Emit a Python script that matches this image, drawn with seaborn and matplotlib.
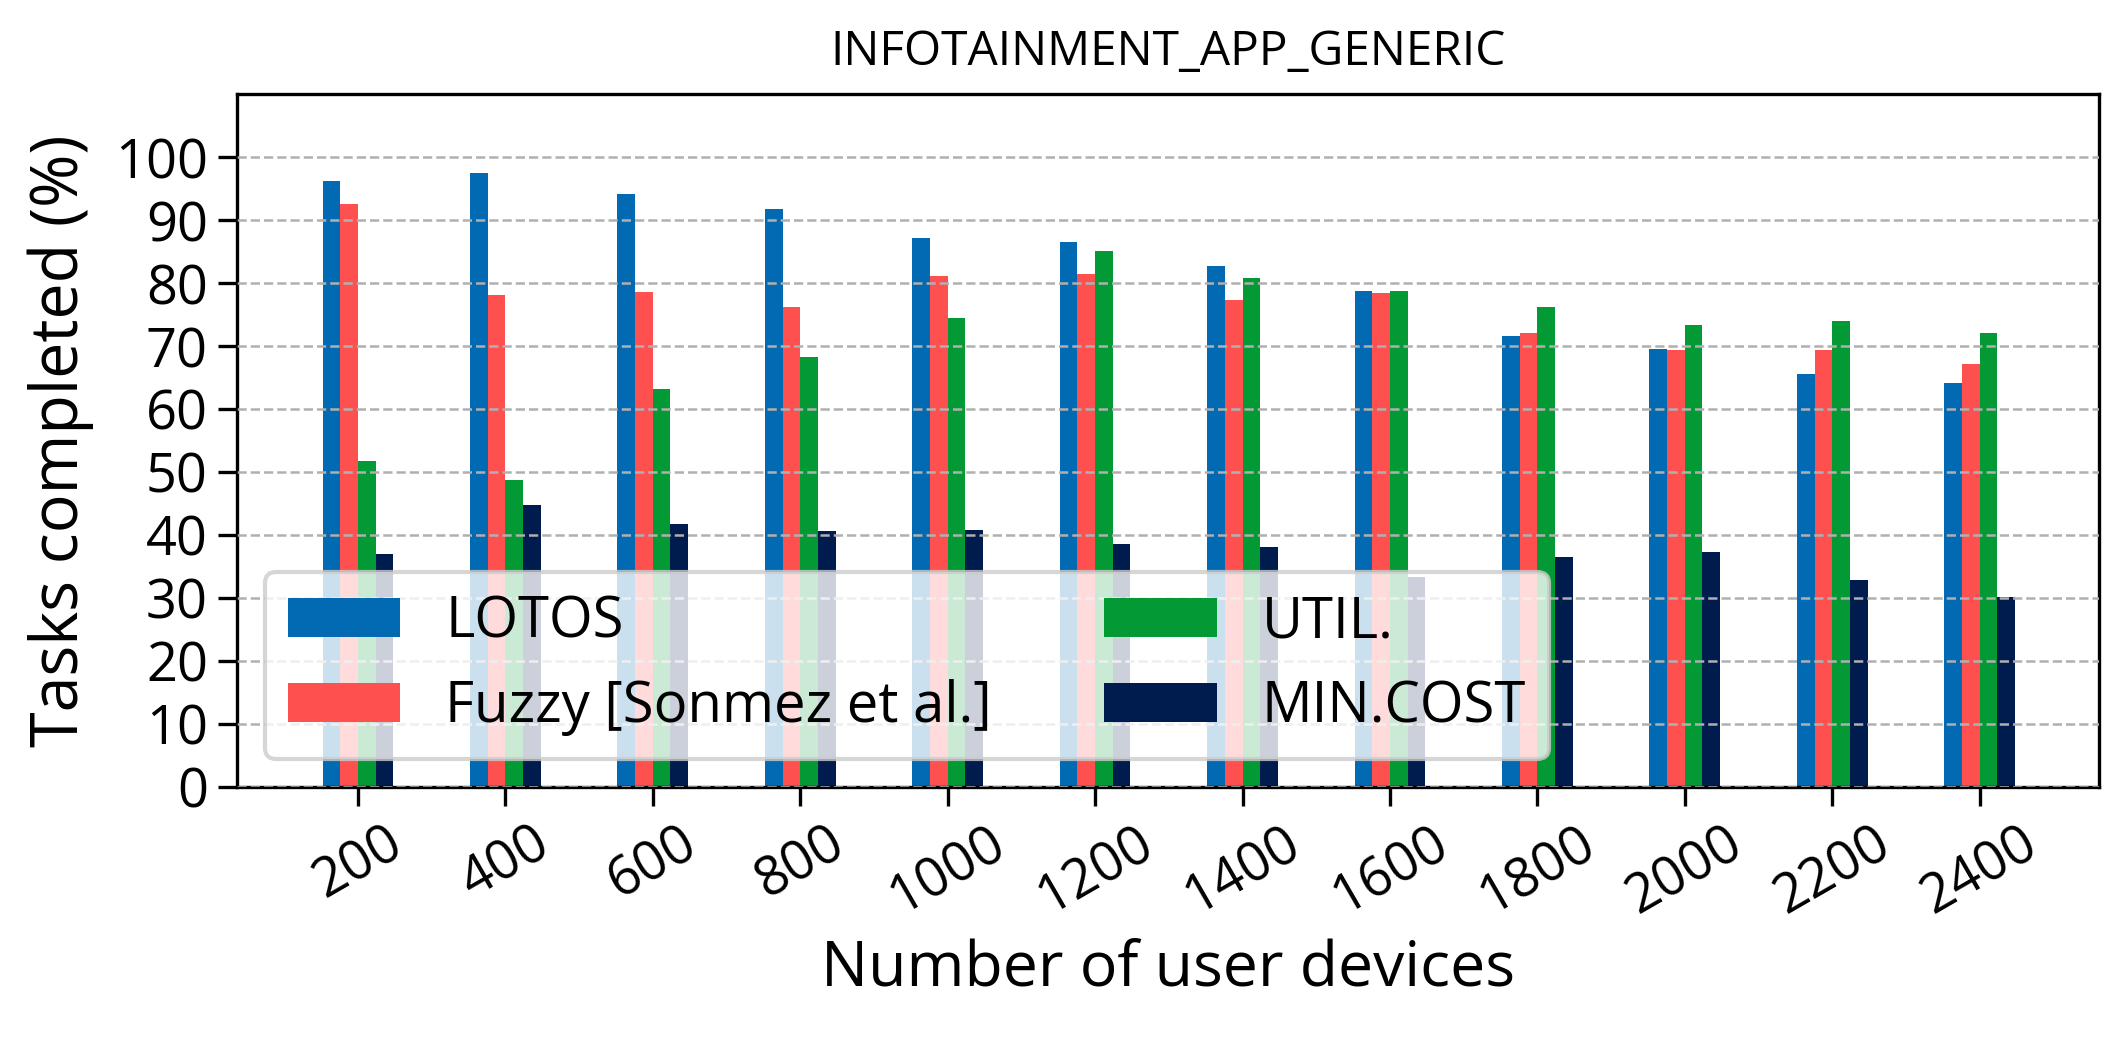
import pandas as pd
import seaborn as sns
import matplotlib.pyplot as plt

devices = ["200", "400", "600", "800", "1000", "1200", "1400", "1600", "1800", "2000", "2200", "2400"]
methods = ["LOTOS", "Fuzzy [Sonmez et al.]", "UTIL.", "MIN.COST"]
lotos = [96.2, 97.4, 94.2, 91.8, 87.2, 86.5, 82.7, 78.7, 71.6, 69.6, 65.6, 64.2]
fuzzy = [92.6, 78.1, 78.5, 76.2, 81.1, 81.5, 77.3, 78.4, 72.0, 69.3, 69.4, 67.2]
util = [51.7, 48.8, 63.1, 68.2, 74.4, 85.1, 80.8, 78.7, 76.2, 73.4, 74.0, 72.1]
mincost = [37.0, 44.7, 41.8, 40.7, 40.8, 38.6, 38.1, 33.4, 36.5, 37.3, 32.8, 30.2]
colors = ["#026ab2", "#ff5050", "#039934", "#001b4e"]

rows = []
for m, vals in zip(methods, [lotos, fuzzy, util, mincost]):
    for d, v in zip(devices, vals):
        rows.append({"devices": d, "value": v, "method": m})
df = pd.DataFrame(rows)

sns.set_style("ticks")
plt.rcParams["font.family"] = ["Open Sans", "DejaVu Sans"]
plt.rcParams.update({"text.color": "black", "axes.labelcolor": "black",
                     "xtick.color": "black", "ytick.color": "black"})

fig = plt.figure(figsize=(2128 / 300, 1041 / 300), dpi=300)
ax = fig.add_axes([0.1114, 0.244, 0.875, 0.6657])

sns.barplot(data=df, x="devices", y="value", hue="method", palette=colors,
            order=devices, hue_order=methods, width=0.48, saturation=1,
            edgecolor="none", linewidth=0, ax=ax)

# grid drawn over the bars like in the original
ax.set_axisbelow(False)
ax.yaxis.grid(True, linestyle="--", color="#b0b0b0", linewidth=0.6, zorder=3)

ax.set_ylim(0, 110)
ax.set_yticks(range(0, 101, 10))
ax.set_xlim(-0.82, 11.81)
ax.tick_params(axis="both", labelsize=13, width=0.8, length=4.5, pad=2.5)
plt.setp(ax.get_xticklabels(), rotation=30)

for s in ax.spines.values():
    s.set_visible(True)
    s.set_linewidth(0.8)
    s.set_color("black")

ax.set_xlabel("Number of user devices", fontsize=15, labelpad=3)
ax.set_ylabel("Tasks completed (%)", fontsize=15.5, labelpad=5)
ax.set_title("INFOTAINMENT_APP_GENERIC", fontsize=11.5, pad=7)

ax.legend(loc="lower left", ncol=2, fontsize=13.5, framealpha=0.8, title=None)

fig.savefig("out.png", dpi=300)
